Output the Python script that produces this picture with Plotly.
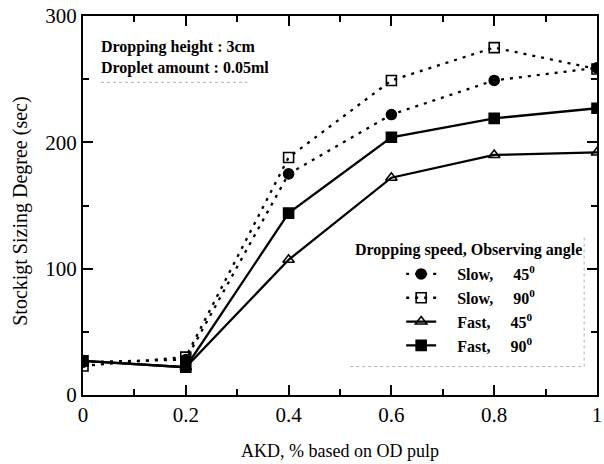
import plotly.graph_objects as go

akd = [0, 0.2, 0.4, 0.6, 0.8, 1.0]
slow45 = [26, 28, 175, 222, 249, 259]
slow90 = [23, 30, 188, 249, 275, 258]
fast45 = [27, 22, 107, 172, 190, 192]
fast90 = [27, 22, 144, 204, 219, 227]
names = ["Slow,", "Slow,", "Fast,", "Fast,"]
angles = ["45", "90", "45", "90"]
xticks = [0, 0.2, 0.4, 0.6, 0.8, 1]
xticklabels = ["0", "0.2", "0.4", "0.6", "0.8", "1"]
yticks = [0, 100, 200, 300]

FONT = "Liberation Serif"
NB = "\u00a0"
fig = go.Figure()
specs = [
    (slow45, "3px,6px", "circle"),
    (slow90, "3px,6px", "square-open"),
    (fast45, "solid", "triangle-up-open"),
    (fast90, "solid", "square"),
]
for i, (ys, dash, sym) in enumerate(specs):
    label = NB * 4 + names[i] + NB * 5 + angles[i] + "<sup>0</sup>"
    fig.add_trace(go.Scatter(
        x=akd, y=ys, name=label, mode="lines+markers",
        line=dict(color="black", width=2.3, dash=dash),
        marker=dict(symbol=sym, size=10, color="black",
                    line=dict(color="black", width=1.6)),
    ))

axis_common = dict(
    showline=True, linecolor="black", linewidth=2, mirror="allticks",
    ticks="inside", ticklen=10, tickwidth=2, tickcolor="black",
    showgrid=False, zeroline=False, ticklabeloverflow="allow",
    tickfont=dict(family=FONT, size=21, color="black"),
)
fig.update_xaxes(range=[0, 1], tickvals=xticks, ticktext=xticklabels,
                 minor=dict(dtick=0.1, ticks="inside", ticklen=6, tickwidth=2, tickcolor="black"),
                 title=dict(text="AKD, % based on OD pulp", font=dict(family=FONT, size=18, color="black"), standoff=18),
                 **axis_common)
fig.update_yaxes(range=[0, 300], tickvals=yticks,
                 minor=dict(dtick=50, ticks="inside", ticklen=6, tickwidth=2, tickcolor="black"),
                 **axis_common)

fig.add_annotation(xref="paper", yref="paper", x=-0.121, y=0.4855, xanchor="center", yanchor="middle",
                   text="Stockigt Sizing Degree (sec)", textangle=-90, showarrow=False,
                   font=dict(family=FONT, size=20, color="black"))
fig.add_annotation(xref="paper", yref="paper", x=0.031, y=0.948, xanchor="left", yanchor="top",
                   text="<b>Dropping height : 3cm<br>Droplet amount : 0.05ml</b>", showarrow=False, align="left",
                   font=dict(family=FONT, size=16, color="black"))
fig.add_annotation(xref="paper", yref="paper", x=0.526, y=0.383, xanchor="left", yanchor="middle",
                   text="<b>Dropping speed, Observing angle</b>", showarrow=False,
                   font=dict(family=FONT, size=16, color="black"))

# faint scanned box edges around the text blocks
faint = dict(color="#b0b0b0", width=1, dash="dot")
fig.add_shape(type="line", xref="paper", yref="paper", x0=0.52, x1=0.975, y0=0.075, y1=0.075, line=faint)
fig.add_shape(type="line", xref="paper", yref="paper", x0=0.975, x1=0.975, y0=0.075, y1=0.42, line=faint)
fig.add_shape(type="line", xref="paper", yref="paper", x0=0.035, x1=0.32, y0=0.825, y1=0.825, line=faint)

fig.update_layout(
    width=604, height=464,
    margin=dict(l=83, r=2, t=16, b=69),
    paper_bgcolor="white", plot_bgcolor="white",
    showlegend=True,
    legend=dict(x=0.619, y=0.364, xanchor="left", yanchor="top", bgcolor="rgba(0,0,0,0)",
                font=dict(family=FONT, size=16, color="black", weight="bold"), tracegroupgap=0),
)
fig.write_html("out.html", config={"displayModeBar": False},
               post_script="document.documentElement.style.overflow='hidden';document.body.style.overflow='hidden';document.body.style.margin='0';document.body.style.padding='0';")
